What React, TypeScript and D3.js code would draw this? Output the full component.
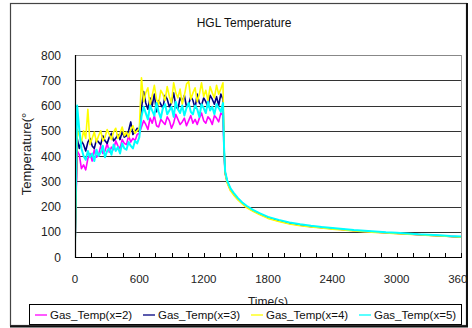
import React from "react";
import * as d3 from "d3";

const title = "HGL Temperature";
const yTitle = "Temperature(°";
const xTitle = "Time(s)";
const seriesNames = ["Gas_Temp(x=2)", "Gas_Temp(x=3)", "Gas_Temp(x=4)", "Gas_Temp(x=5)"];
const seriesColors = ["#FF00FF", "#000080", "#FFFF00", "#00FFFF"];
const xTickLabels = [0, 600, 1200, 1800, 2400, 3000, 3600];
const yTickLabels = [0, 100, 200, 300, 400, 500, 600, 700, 800];

const fireTimes = [
  0, 20, 40, 60, 80, 100, 120, 140, 160, 180, 200, 220, 240, 260, 280, 300, 320, 340, 360, 380,
  400, 420, 440, 460, 480, 500, 520, 540, 560, 580, 600, 620, 640, 660, 680, 700, 720, 740, 760, 780,
  800, 820, 840, 860, 880, 900, 920, 940, 960, 980, 1000, 1020, 1040, 1060, 1080, 1100, 1120, 1140, 1160, 1180,
  1200, 1220, 1240, 1260, 1280, 1300, 1320, 1340, 1360, 1380,
];
const decayTimes = [
  1390, 1400, 1420, 1450, 1480, 1520, 1560, 1600, 1660, 1720, 1800, 1900, 2000, 2100, 2200, 2300, 2400, 2500,
  2600, 2700, 2800, 2900, 3000, 3100, 3200, 3300, 3400, 3500, 3600,
];

const gas2 = [
  40, 420, 405, 350, 365, 345, 390, 410, 380, 425, 395, 405, 440, 410, 420, 450, 415, 435, 425, 460,
  440, 430, 465, 450, 445, 480, 455, 470, 460, 485, 490,
  515, 540, 525, 505, 550, 530, 560, 520, 515, 545, 535, 525, 555, 540, 510, 530, 565, 545, 525, 535,
  550, 520, 540, 560, 530, 545, 525, 550, 570, 540, 530, 555, 545, 525, 560, 550, 535, 570, 560,
  420, 330, 295, 265, 248, 228, 212, 198, 183, 170, 155, 143, 133, 126, 120, 116, 112, 108, 104, 101,
  98, 96, 93, 91, 88, 86, 84, 82, 79,
];
const gas3 = [
  30, 470, 430, 460, 445, 420, 455, 470, 440, 430, 465, 455, 445, 480, 460, 450, 475, 490, 460, 470,
  485, 465, 495, 475, 480, 500, 535, 485, 495, 510, 500,
  590, 655, 610, 585, 630, 600, 645, 575, 620, 605, 590, 640, 625, 595, 610, 650, 600, 585, 630, 615,
  640, 595, 605, 635, 620, 590, 645, 610, 600, 630, 615, 595, 640, 625, 605, 635, 600, 645, 625,
  430, 335, 298, 268, 250, 230, 213, 200, 184, 171, 156, 144, 134, 127, 121, 117, 113, 109, 105, 102,
  99, 96, 94, 91, 89, 86, 84, 81, 79,
];
const gas4 = [
  20, 505, 480, 455, 500, 470, 585, 445, 470, 495, 455, 480, 500, 460, 475, 505, 485, 465, 495, 510,
  470, 490, 515, 480, 495, 475, 505, 520, 490, 500, 510,
  710, 615, 650, 670, 600, 640, 680, 625, 605, 660, 645, 620, 675, 635, 610, 690, 650, 630, 665, 605,
  640, 685, 695, 625, 650, 670, 615, 645, 690, 635, 660, 620, 675, 650, 630, 680, 645, 665, 690,
  440, 330, 292, 262, 245, 226, 210, 196, 181, 168, 153, 141, 131, 124, 119, 115, 110, 107, 103, 100,
  97, 95, 92, 90, 88, 85, 83, 81, 78,
];
const gas5 = [
  50, 600, 505, 430, 400, 385, 420, 395, 410, 380, 425, 400, 415, 440, 395, 420, 430, 405, 445, 420,
  435, 410, 450, 430, 425, 455, 440, 430, 460, 450, 475,
  555, 595, 570, 545, 600, 580, 560, 610, 575, 550, 590, 605, 565, 580, 595, 555, 615, 585, 570, 600,
  560, 590, 610, 575, 565, 600, 585, 555, 605, 590, 570, 615, 580, 595, 565, 605, 590, 575, 610,
  435, 340, 302, 272, 254, 233, 216, 203, 187, 174, 159, 147, 137, 130, 124, 119, 115, 111, 107, 104,
  101, 98, 96, 93, 90, 88, 86, 83, 81,
];

const allTimes = fireTimes.concat(decayTimes);
const seriesValues = [gas2, gas3, gas4, gas5];

const W = 472;
const H = 328;
const plot = { left: 75, right: 461, top: 55, bottom: 257 };
const FONT = "'Liberation Sans', Arial, sans-serif";

export default function App() {
  const x = d3.scaleLinear().domain([0, 3600]).range([plot.left, plot.right]);
  const y = d3.scaleLinear().domain([0, 800]).range([plot.bottom, plot.top]);
  const line = d3
    .line<[number, number]>()
    .x((d) => x(d[0]))
    .y((d) => y(d[1]));
  const minorTicks = d3.range(0, 3601, 150);

  const legendItemX = [35, 143, 251, 359];

  return (
    <svg
      width={W}
      height={H}
      style={{ position: "absolute", left: 0, top: 0, background: "#fff" }}
      fontFamily={FONT}
    >
      <defs>
        <clipPath id="outer">
          <rect x={10} y={3} width={457} height={323} />
        </clipPath>
        <clipPath id="plotclip">
          <rect x={plot.left} y={plot.top - 2} width={plot.right - plot.left + 1} height={plot.bottom - plot.top + 2} />
        </clipPath>
      </defs>
      <rect x={0} y={0} width={W} height={H} fill="#fff" />
      <g clipPath="url(#outer)">
        <text x={244} y={27} textAnchor="middle" fontSize={12} fill="#111">
          {title}
        </text>
        {yTickLabels.map((v) => (
          <line
            key={"g" + v}
            x1={plot.left}
            x2={plot.right}
            y1={Math.round(y(v)) + 0.5}
            y2={Math.round(y(v)) + 0.5}
            stroke={v === 800 ? "#888" : "#333"}
            strokeWidth={1}
          />
        ))}
        <line x1={plot.right + 0.5} x2={plot.right + 0.5} y1={plot.top} y2={plot.bottom} stroke="#999" />
        <g clipPath="url(#plotclip)">
          {seriesValues.map((vals, i) => (
            <path
              key={seriesNames[i]}
              d={line(allTimes.map((t, k) => [t, vals[k]] as [number, number])) || ""}
              fill="none"
              stroke={seriesColors[i]}
              strokeWidth={i === 3 ? 2 : 1.6}
              strokeLinejoin="round"
            />
          ))}
        </g>
        <line x1={plot.left + 0.5} x2={plot.left + 0.5} y1={plot.top} y2={plot.bottom + 1} stroke="#000" strokeWidth={1.2} />
        <line x1={plot.left} x2={plot.right + 1} y1={plot.bottom + 0.5} y2={plot.bottom + 0.5} stroke="#000" strokeWidth={1.2} />
        {minorTicks.map((t) => (
          <line
            key={"t" + t}
            x1={Math.round(x(t)) + 0.5}
            x2={Math.round(x(t)) + 0.5}
            y1={plot.bottom}
            y2={plot.bottom - 4}
            stroke="#000"
          />
        ))}
        {yTickLabels.map((v) => (
          <text key={"yl" + v} x={61} y={y(v) + 4.5} textAnchor="end" fontSize={12} fill="#222">
            {v}
          </text>
        ))}
        {xTickLabels.map((v) => (
          <text key={"xl" + v} x={x(v)} y={283} textAnchor="middle" fontSize={11.5} fill="#222">
            {v}
          </text>
        ))}
        <text transform={`translate(31,154) rotate(-90)`} textAnchor="middle" fontSize={13} fill="#222">
          {yTitle}
        </text>
        <text x={268} y={306} textAnchor="middle" fontSize={12} fill="#222">
          {xTitle}
        </text>
        <rect x={29.5} y={304.5} width={432} height={20} fill="#fff" stroke="#000" strokeWidth={1} />
        {seriesNames.map((n, i) => (
          <g key={"lg" + n}>
            <line
              x1={legendItemX[i]}
              x2={legendItemX[i] + 12}
              y1={315}
              y2={315}
              stroke={seriesColors[i]}
              strokeWidth={1.3}
            />
            <text x={legendItemX[i] + 15} y={319} fontSize={11.5} fill="#111">
              {n}
            </text>
          </g>
        ))}
      </g>
      <rect x={10.5} y={3.5} width={456} height={322} fill="none" stroke="#444" strokeWidth={1.2} />
      <line x1={467} x2={467} y1={3} y2={327} stroke="#111" strokeWidth={2} />
      <line x1={10} x2={468} y1={326.5} y2={326.5} stroke="#111" strokeWidth={2} />
    </svg>
  );
}
